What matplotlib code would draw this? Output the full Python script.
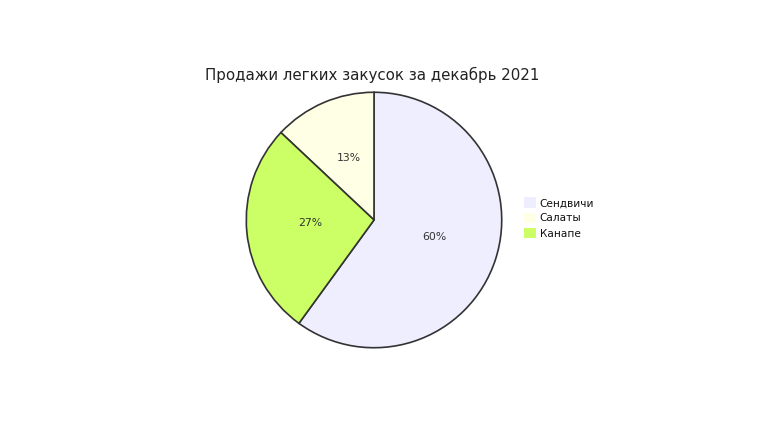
import matplotlib.pyplot as plt

labels = ['Сендвичи', 'Салаты', 'Канапе']
values = [60, 13, 27]
colors = ['#eeeeff', '#ffffe6', '#ccff66']

fig = plt.figure(figsize=(7.8, 4.4), dpi=100)
ax = fig.add_axes([245 / 780, 91 / 440, 258 / 780, 258 / 440])

wedges, texts, autotexts = ax.pie(
    values, colors=colors, startangle=-126, counterclock=True,
    autopct='%d%%', pctdistance=0.5,
    wedgeprops=dict(edgecolor='#333333', linewidth=1.2),
    textprops=dict(fontsize=7.8, color='#333333'))
for t in autotexts:
    x, y = t.get_position()
    t.set_position((x, y + 0.025))
ax.set_xlim(-1.01, 1.01)
ax.set_ylim(-1.01, 1.01)
ax.set_aspect('equal')

fig.text(372 / 780, 1 - 75 / 440, 'Продажи легких закусок за декабрь 2021',
         ha='center', va='center', fontsize=10.8, color='#222222')

leg = fig.legend(wedges, labels, loc='center left', bbox_to_anchor=(524 / 780, 1 - 218 / 440),
                 frameon=False, fontsize=7.6, handlelength=1.15, handleheight=1.15,
                 handletextpad=0.35, labelspacing=0.42, borderpad=0, borderaxespad=0)
for h in leg.legend_handles:
    h.set_edgecolor('none')
for t in leg.get_texts():
    t.set_color('#111111')

fig.savefig('out.png', dpi=100)
